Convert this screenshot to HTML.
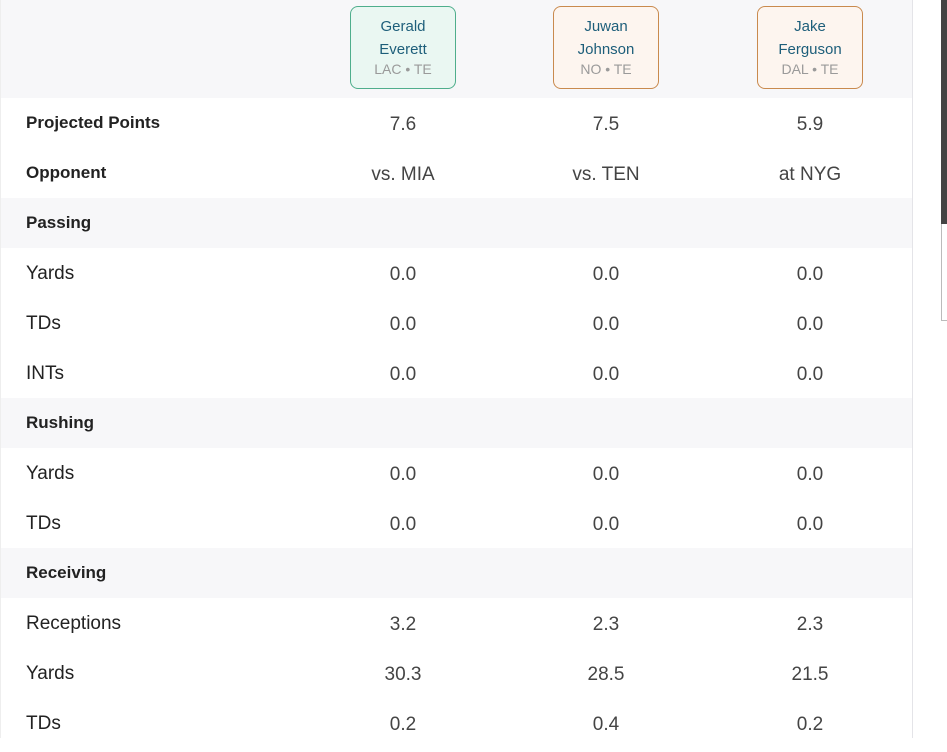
<!DOCTYPE html>
<html><head><meta charset="utf-8"><style>
body{margin:0;width:947px;height:738px;overflow:hidden;background:#fff;font-family:"Liberation Sans",sans-serif;position:relative}
#wrap{position:absolute;left:0;top:0;width:911px;border-right:1px solid #e4e4e8;border-left:1px solid #eee;height:738px}
.hdr{height:98px;background:#f7f7f9;position:relative}
.card{position:absolute;top:6px;width:106px;height:83px;border-radius:8px;text-align:center;font-size:15px;line-height:23px;box-sizing:border-box;padding-top:8px}
.card .n{color:#1d5e7a}
.card .p{color:#9a9a9a;font-size:14px;line-height:17px}
.g{background:#eaf7f2;border:1px solid #4fae8c}
.o{background:#fdf5ef;border:1px solid #c98a4e}
.row{height:50px;position:relative;font-size:19px;color:#222}
.row.sec{background:#f7f7f9}
.row .l{position:absolute;left:25px;top:0;line-height:52px}
.row.b .l,.row.sec .l{font-weight:bold;font-size:17px;line-height:50px}
.row .v{position:absolute;width:140px;text-align:center;line-height:54px;color:#444}
</style></head><body>
<div id="wrap">
<div class="hdr">
<div class="card g" style="left:349px"><div class="n">Gerald<br>Everett</div><div class="p">LAC • TE</div></div>
<div class="card o" style="left:552px"><div class="n">Juwan<br>Johnson</div><div class="p">NO • TE</div></div>
<div class="card o" style="left:756px"><div class="n">Jake<br>Ferguson</div><div class="p">DAL • TE</div></div>
</div>
<div id="rows"></div>
</div>
<div style="position:absolute;left:941px;top:0;width:6px;height:224px;background:#444"></div>
<div style="position:absolute;left:941px;top:224px;width:6px;height:96px;border-left:1px solid #bbb;border-bottom:1px solid #bbb"></div>
<script>
const labels=["Projected Points","Opponent","Passing","Yards","TDs","INTs","Rushing","Yards","TDs","Receiving","Receptions","Yards","TDs"];
const kinds=["b","b","sec","","","","sec","","","sec","","",""];
const col1=["7.6","vs. MIA","","0.0","0.0","0.0","","0.0","0.0","","3.2","30.3","0.2"];
const col2=["7.5","vs. TEN","","0.0","0.0","0.0","","0.0","0.0","","2.3","28.5","0.4"];
const col3=["5.9","at NYG","","0.0","0.0","0.0","","0.0","0.0","","2.3","21.5","0.2"];
const centers=[402,605,809];
const R=document.getElementById('rows');
labels.forEach((t,i)=>{
 const r=document.createElement('div');
 r.className='row '+kinds[i];
 
 
 const l=document.createElement('div');l.className='l';l.textContent=t;
 
 
 r.appendChild(l);
 [col1,col2,col3].forEach((c,j)=>{
  if(!c[i])return;
  const v=document.createElement('div');v.className='v';v.textContent=c[i];
  v.style.left=(centers[j]-70)+'px';
  
  
  r.appendChild(v);
 });
 R.appendChild(r);
});
</script>
</body></html>
